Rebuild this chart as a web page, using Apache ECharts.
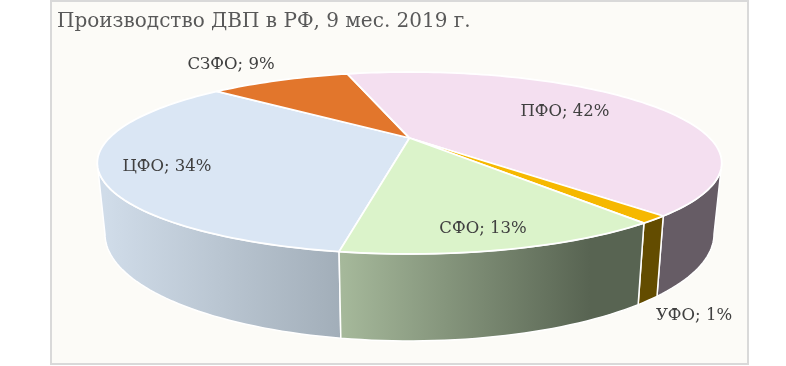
<!DOCTYPE html>
<html>
<head>
<meta charset="utf-8">
<style>html,body{margin:0;padding:0;background:#fff}#chart{width:786px;height:366px}</style>
<script src="https://cdn.jsdelivr.net/npm/echarts@6/dist/echarts.min.js"></script>
</head>
<body>
<div id="chart"></div>
<script>
// data, clockwise from the start angle
const categories = ["ЦФО", "СЗФО", "ПФО", "УФО", "СФО"];
const shares = [33.6, 9.45, 42.45, 1.3, 13.2];

const titleText = "Производство ДВП в РФ, 9 мес. 2019 г.";
const fontFamily = "'DejaVu Serif', serif";

const topColors = ["#dae6f4", "#e2762c", "#f4dff0", "#f6b800", "#dbf3ca"];
function flat(c) { return c; }
function sideGradient(x, x2, from, to) {
  return { type: "linear", x: x, y: 0, x2: x2, y2: 0, global: true,
    colorStops: [{ offset: 0, color: from }, { offset: 1, color: to }] };
}
const sideColors = [
  sideGradient(105, 340, "#d0dce9", "#a2aeb9"),
  flat("#8a4a1c"),
  flat("#665c65"),
  flat("#634c00"),
  sideGradient(340, 590, "#a6b99b", "#586452")
];
const labelCenters = [[167, 167], [231, 65], [565, 112], [694, 316], [483, 229]];

// projection of the top and bottom discs (angle 0 = back, clockwise)
const startAngle = 189.85;
const persp = 0.2747;
const topDisc = { cx: 409.5, cy: 138, a: 300.2, b: 84.1 };
const bottomDisc = { cx: 409.5, cy: 204.6, a: 292.8, b: 98.9 };
const frontFrom = Math.atan2(Math.sqrt(1 - persp * persp), -persp) * 180 / Math.PI;
const frontTo = 360 - frontFrom;

function project(disc, deg) {
  const t = deg * Math.PI / 180;
  const u = Math.sin(t), v = Math.cos(t);
  const w = 1 + persp * v;
  return [disc.cx + disc.a * u / w, disc.cy - disc.b * v / w];
}

function rim(disc, from, to) {
  const pts = [];
  const steps = Math.max(2, Math.ceil((to - from) / 1.5));
  for (let i = 0; i <= steps; i++) pts.push(project(disc, from + (to - from) * i / steps));
  return pts;
}

const total = shares.reduce((s, v) => s + v, 0);
const spans = [];
let running = startAngle;
shares.forEach(v => {
  spans.push([running, running + v / total * 360]);
  running += v / total * 360;
});

function renderSide(params) {
  const i = params.dataIndex;
  const span = spans[i];
  const children = [];
  [0, 360].forEach(shift => {
    const from = Math.max(span[0], frontFrom + shift);
    const to = Math.min(span[1], frontTo + shift);
    if (to <= from) return;
    const pts = rim(topDisc, from, to).concat(rim(bottomDisc, from, to).reverse());
    children.push({
      type: "polygon",
      shape: { points: pts },
      style: { fill: sideColors[i], stroke: "#fff", lineWidth: 1.5 }
    });
  });
  return { type: "group", children: children };
}

function renderTop(params) {
  const i = params.dataIndex;
  const span = spans[i];
  const pts = [[topDisc.cx, topDisc.cy]].concat(rim(topDisc, span[0], span[1]));
  return {
    type: "polygon",
    shape: { points: pts },
    style: { fill: topColors[i], stroke: "#fff", lineWidth: 1.8, lineJoin: "round" }
  };
}

function renderLabel(params) {
  const i = params.dataIndex;
  return {
    type: "text",
    style: {
      x: labelCenters[i][0],
      y: labelCenters[i][1],
      text: categories[i] + "; " + Math.round(shares[i]) + "%",
      fill: "#404040",
      font: "16.5px " + fontFamily,
      align: "center",
      verticalAlign: "middle"
    }
  };
}

const seriesData = categories.map((name, i) => ({ name: name, value: shares[i] }));

const chart = echarts.init(document.getElementById("chart"), null, { renderer: "canvas" });
chart.setOption({
  animation: false,
  backgroundColor: "#ffffff",
  title: {
    text: titleText,
    left: 52,
    top: 7,
    textStyle: { color: "#595959", fontFamily: fontFamily, fontSize: 20, fontWeight: "normal" }
  },
  graphic: [{
    type: "rect",
    z: -10,
    shape: { x: 51, y: 1, width: 697, height: 363 },
    style: { fill: "#fcfbf7", stroke: "#d9d9d9", lineWidth: 2 }
  }],
  series: [
    { type: "custom", coordinateSystem: "none", renderItem: renderSide, data: seriesData, z: 1 },
    { type: "custom", coordinateSystem: "none", renderItem: renderTop, data: seriesData, z: 2 },
    { type: "custom", coordinateSystem: "none", renderItem: renderLabel, data: seriesData, z: 3 }
  ]
});
</script>
</body>
</html>
